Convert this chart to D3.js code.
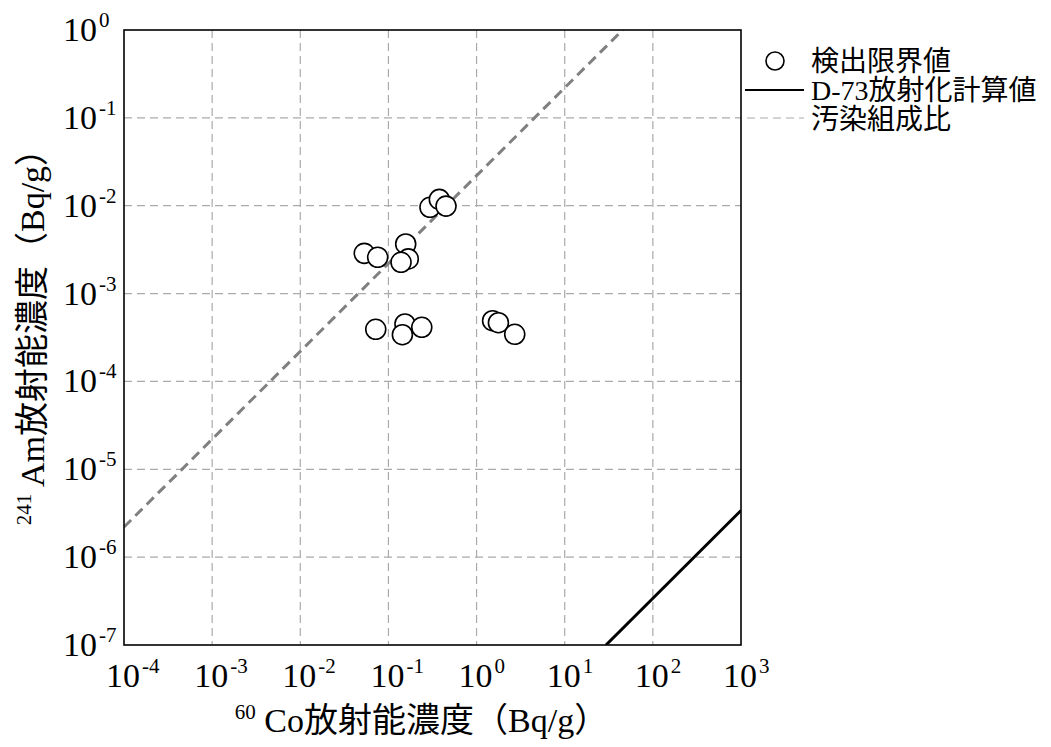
<!DOCTYPE html>
<html>
<head>
<meta charset="utf-8">
<script src="https://cdn.jsdelivr.net/npm/d3@7"></script>
<style>
  body { margin: 0; background: #fff; }
  svg text { font-family: "Liberation Serif", "Noto Sans CJK JP", serif; fill: #000; }
</style>
</head>
<body>
<div id="chart"></div>
<script>
// 60Co と 241Am の測定値（検出限界値）
const coValues = [0.296, 0.378, 0.45, 0.157, 0.0532, 0.0755, 0.168, 0.139, 0.0718, 0.154, 0.144, 0.239, 1.52, 1.77, 2.71];
const amValues = [0.0096, 0.0118, 0.0099, 0.00367, 0.00287, 0.00259, 0.00248, 0.00227, 0.000392, 0.000451, 0.00034, 0.000413, 0.000491, 0.000466, 0.000344];

// 比 Am/Co
const contaminationRatio = 0.022;   // 汚染組成比
const d73Ratio = 3.4e-9;            // D-73放射化計算値

const xExponents = [-4, -3, -2, -1, 0, 1, 2, 3];
const yExponents = [-7, -6, -5, -4, -3, -2, -1, 0];
const legendLabels = ['検出限界値', 'D-73放射化計算値', '汚染組成比'];

let margin = {top: 30, right: 310, bottom: 102, left: 124},
    width = 1051 - margin.left - margin.right,
    height = 747 - margin.top - margin.bottom;

let svg = d3.select('#chart')
    .append('svg')
        .attr('width', 1051)
        .attr('height', 747)
    .append('g')
        .attr('transform', 'translate(' + margin.left + ',' + margin.top + ')');

let x = d3.scaleLog()
    .domain([1e-4, 1e3])
    .range([0, width]);

let y = d3.scaleLog()
    .domain([1e-7, 1])
    .range([height, 0]);

svg.append('clipPath')
    .attr('id', 'plot-clip')
    .append('rect')
    .attr('width', width)
    .attr('height', height);

// Grid
svg.append('g')
    .selectAll('line')
    .data(xExponents.slice(1, -1))
    .enter()
    .append('line')
    .attr('x1', function(d) { return x(Math.pow(10, d)); })
    .attr('x2', function(d) { return x(Math.pow(10, d)); })
    .attr('y1', 0)
    .attr('y2', height)
    .attr('stroke', '#aaa')
    .attr('stroke-width', 1.2)
    .attr('stroke-dasharray', '8,5');

svg.append('g')
    .selectAll('line')
    .data(yExponents.slice(1, -1))
    .enter()
    .append('line')
    .attr('y1', function(d) { return y(Math.pow(10, d)); })
    .attr('y2', function(d) { return y(Math.pow(10, d)); })
    .attr('x1', 0)
    .attr('x2', width)
    .attr('stroke', '#aaa')
    .attr('stroke-width', 1.2)
    .attr('stroke-dasharray', '8,5');

// Lines
let xs = x.domain();

svg.append('line')
    .attr('clip-path', 'url(#plot-clip)')
    .attr('x1', x(xs[0]))
    .attr('y1', y(xs[0] * contaminationRatio))
    .attr('x2', x(xs[1]))
    .attr('y2', y(xs[1] * contaminationRatio))
    .attr('stroke', '#808080')
    .attr('stroke-width', 3)
    .attr('stroke-dasharray', '10,6');

let d73Start = 1e-7 / d73Ratio;
svg.append('line')
    .attr('clip-path', 'url(#plot-clip)')
    .attr('x1', x(d73Start))
    .attr('y1', y(d73Start * d73Ratio))
    .attr('x2', x(xs[1]))
    .attr('y2', y(xs[1] * d73Ratio))
    .attr('stroke', '#000')
    .attr('stroke-width', 3);

// Points
svg.append('g')
    .selectAll('circle')
    .data(coValues)
    .enter()
    .append('circle')
    .attr('cx', function(d) { return x(d); })
    .attr('cy', function(d, i) { return y(amValues[i]); })
    .attr('r', 10)
    .attr('fill', '#fff')
    .attr('stroke', '#000')
    .attr('stroke-width', 1.6);

// Frame
svg.append('rect')
    .attr('width', width)
    .attr('height', height)
    .attr('fill', 'none')
    .attr('stroke', '#000')
    .attr('stroke-width', 1.6);

// Tick labels
let xTicks = svg.append('g')
    .selectAll('text')
    .data(xExponents)
    .enter()
    .append('text')
    .attr('x', function(d) { return x(Math.pow(10, d)) - 18; })
    .attr('y', height + 42)
    .style('font-size', '34px');
xTicks.append('tspan').text('10');
xTicks.append('tspan')
    .attr('dx', 2)
    .attr('dy', -14)
    .style('font-size', '21px')
    .text(function(d) { return d; });

let yTicks = svg.append('g')
    .selectAll('text')
    .data(yExponents)
    .enter()
    .append('text')
    .attr('x', -61)
    .attr('y', function(d) { return y(Math.pow(10, d)) + 11; })
    .style('font-size', '34px');
yTicks.append('tspan').text('10');
yTicks.append('tspan')
    .attr('dx', 2)
    .attr('dy', -14)
    .style('font-size', '21px')
    .text(function(d) { return d; });

// Axis titles
let xTitle = svg.append('text')
    .attr('x', width / 2 - 11)
    .attr('y', height + 87)
    .attr('text-anchor', 'middle')
    .style('font-size', '34px');
xTitle.append('tspan').attr('dy', -13).style('font-size', '21px').text('60');
xTitle.append('tspan').attr('dy', 13).text(' Co放射能濃度（Bq/g）');

let yTitle = svg.append('text')
    .attr('transform', 'translate(' + (-80) + ',' + (height / 2 - 9) + ') rotate(-90)')
    .attr('text-anchor', 'middle')
    .style('font-size', '34px');
yTitle.append('tspan').attr('dy', -13).style('font-size', '21px').text('241');
yTitle.append('tspan').attr('dy', 13).text(' Am放射能濃度（Bq/g）');

// Legend
let legend = svg.append('g')
    .attr('transform', 'translate(' + (width + 2) + ',0)');

legend.append('circle')
    .attr('cx', 32)
    .attr('cy', 31)
    .attr('r', 9)
    .attr('fill', '#fff')
    .attr('stroke', '#000')
    .attr('stroke-width', 1.6);

legend.append('line')
    .attr('x1', 2).attr('x2', 61)
    .attr('y1', 60).attr('y2', 60)
    .attr('stroke', '#000')
    .attr('stroke-width', 2);

legend.append('line')
    .attr('x1', 4).attr('x2', 61)
    .attr('y1', 88).attr('y2', 88)
    .attr('stroke', '#aaa')
    .attr('stroke-width', 1.2)
    .attr('stroke-dasharray', '8,5');

legend.selectAll('text.legend')
    .data(legendLabels)
    .enter()
    .append('text')
    .attr('class', 'legend')
    .attr('x', 68)
    .attr('y', function(d, i) { return 41 + i * 29; })
    .style('font-size', '28px')
    .text(function(d) { return d; });
</script>
</body>
</html>
